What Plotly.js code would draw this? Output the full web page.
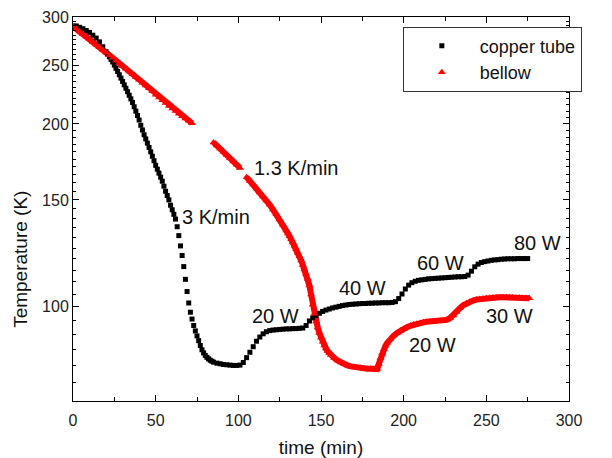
<!DOCTYPE html>
<html>
<head>
<meta charset="utf-8">
<script src="https://cdn.plot.ly/plotly-3.0.1.min.js"></script>
<style>html,body{margin:0;padding:0;background:#fff;}#chart{width:612px;height:458px;}</style>
</head>
<body>
<div id="chart"></div>
<script>
// copper tube (time in min, temperature in K)
const cuTime = [0,2,4,6,8,10,12,14,16,18,
 20,21,22,23,24,25,26,27,28,29,30,31,32,33,34,35,36,37,38,39,40,41,42,43,44,45,46,47,48,49,
 50,51,52,53,54,55,56,57,58,59,60,61,62,63,64,65,66,67,68,69,70,71,72,73,74,75,76,77,78,79,
 80,81,82,83,84,85,
 87,89,91,93,95,97,99,101,103,105,107,109,111,113,115,117,119,121,123,125,127,129,131,133,135,137,139,
 141,143,145,147,149,151,153,155,157,159,161,163,165,167,169,171,173,175,177,179,181,183,185,187,189,191,193,
 195,197,199,201,203,205,207,209,211,213,215,217,219,221,223,225,227,229,231,233,235,237,
 239,241,243,245,247,249,251,253,255,257,259,261,263,265,267,269,271,273,275];
const cuTemp = [290,290,288.5,287,285,283,280,277,273,268,
 263,260.5,258,255.5,253,250,247,244,241,238,235,232,229,226,223,220,217,213.5,210,206.5,203,199,195.5,192,189,186,183,180,177,174,
 171,168.5,166,163.5,161,158,155,152.5,150,147,144.5,142,139.5,135.5,131,126,121.5,116.5,111,106,101.5,98,95.5,93.2,91.3,89.6,88,86.4,85,84,
 83.2,82.6,82.1,81.7,81.4,81.1,
 80.8,80.6,80.4,80.3,80.2,80.1,80.1,80.2,81,82.5,84.2,86,87.8,89.2,90.3,91,91.4,91.6,91.7,91.8,91.9,92,92,92.1,92.1,92.2,92.3,
 93.2,94.8,95.9,96.8,97.6,98.3,98.8,99.2,99.6,99.9,100.2,100.5,100.7,100.9,101,101.1,101.2,101.3,101.3,101.4,101.4,101.5,101.5,101.6,101.6,101.6,101.7,
 102,103.2,105,107,108.6,109.6,110.2,110.6,110.8,111,111.2,111.3,111.4,111.5,111.6,111.7,111.8,111.9,112,112.1,112.1,112.2,
 112.8,114.5,116.4,117.6,118.3,118.7,119,119.3,119.5,119.6,119.8,119.9,120,120,120,120.1,120.1,120.1,120.1];

// bellow (time in min, temperature in K); null marks the gaps in the record
const beTime = [0,2,4,6,8,10,12,14,16,18,20,22,24,26,28,30,32,34,36,38,40,42,44,46,48,50,52,54,56,58,60,62,64,66,68,70,72,
 78,
 85,87,89,91,93,95,97,99,101,
 103,
 105,107,109,111,113,115,117,119,121,123,125,127,129,
 130,131,132,133,134,135,136,137,138,139,140,141,142,143,144,145,146,147,148,149,150,151,152,153,154,155,156,
 158,160,162,164,166,168,170,172,174,176,178,180,182,184,
 185,186,187,188,189,190,
 192,194,196,198,200,202,204,206,208,210,212,214,216,218,220,222,224,226,228,230,232,234,236,238,240,242,244,246,248,250,
 252,254,256,258,260,262,264,266,268,270,272,274,276];
const beTemp = [289.5,286.8,284,281.2,278.5,275.8,273,270.3,267.6,265,262.3,259.6,257,254.4,251.8,249.2,246.6,244,241.5,239,236.4,233.9,231.4,228.9,226.4,223.5,221.1,218.8,216.5,214.2,212,210,208,206,204.2,202.4,200.6,
 null,
 186.5,184.4,182.2,180,177.8,175.7,173.5,171.4,169.3,
 null,
 163.5,161.2,159,156.6,154.3,152,149.6,147.2,144.6,142,139.2,136.5,133.6,
 132.1,130.7,129.2,127.7,126.1,124.5,122.8,121.1,119.2,117.2,115.2,113.4,111.2,108.4,104.8,100.8,97.4,94.6,92.5,90.6,89,87.6,86.4,85.4,84.6,83.9,83.3,
 82.4,81.6,81,80.5,80.1,79.8,79.6,79.4,79.3,79.2,79.1,79.1,79,79,
 80.6,82.4,83.9,85.2,86.3,87.2,
 88.6,89.7,90.6,91.4,92,92.6,93.1,93.5,93.8,94.1,94.3,94.5,94.6,94.7,94.8,94.9,95,95.2,95.8,96.8,98.2,99.5,100.6,101.4,102,102.4,102.8,103,103.2,103.4,
 103.5,103.6,103.7,103.7,103.7,103.7,103.7,103.6,103.5,103.5,103.4,103.4,103.3];

// annotations: text, time, temperature
const noteText = ['1.3 K/min','3 K/min','20 W','40 W','60 W','80 W','20 W','30 W'];
const noteTime = [108.3,64.7,107,159.6,207.1,265.7,202,248.3];
const noteTemp = [169.4,140.6,96.6,107.5,118.1,127.4,86.6,96.6];

// axis ticks
const yTickVals = [100,150,200,250,300];
const xTickVals = [0,50,100,150,200,250,300];

const FONT = 'Liberation Sans, Arial, Helvetica, sans-serif';
const yMinor = [];
for (let v = 70; v <= 300; v += 5) { if (yTickVals.indexOf(v) < 0) yMinor.push(v); }

const traces = [
  {x: beTime, y: beTemp, name: 'bellow', type: 'scatter', mode: 'lines', showlegend: false,
   connectgaps: false, line: {color: '#ff0000', width: 6}, hoverinfo: 'skip'},
  {x: cuTime, y: cuTemp, name: 'copper tube', type: 'scatter', mode: 'markers',
   marker: {symbol: 'square', size: 5, color: '#000000'}},
  {x: beTime, y: beTemp, name: 'bellow', type: 'scatter', mode: 'markers',
   marker: {symbol: 'triangle-up', size: 7, color: '#ff0000'}}
];

const annotations = noteText.map((t, i) => ({
  text: t, x: noteTime[i], y: Math.log10(noteTemp[i]), xref: 'x', yref: 'y',
  showarrow: false, xanchor: 'left', yanchor: 'middle',
  font: {family: FONT, size: 20, color: '#111111'}
}));
annotations.push({
  text: 'Temperature (K)', textangle: -90, xref: 'paper', yref: 'paper',
  x: -0.105, y: 0.37, xanchor: 'center', yanchor: 'middle', showarrow: false,
  font: {family: FONT, size: 19, color: '#111111'}
});

const layout = {
  width: 612, height: 458,
  margin: {l: 73, r: 43, t: 17, b: 57},
  paper_bgcolor: '#ffffff', plot_bgcolor: '#ffffff',
  font: {family: FONT, color: '#111111'},
  showlegend: true,
  legend: {x: 0.665, y: 0.975, xanchor: 'left', yanchor: 'top', itemwidth: 66,
    bgcolor: '#ffffff', bordercolor: '#333333', borderwidth: 1, tracegroupgap: 0,
    font: {family: FONT, size: 18, color: '#111111'}},
  xaxis: {range: [0, 300], tickmode: 'array', tickvals: xTickVals,
    ticks: 'inside', ticklen: 6, tickwidth: 1, tickcolor: '#000',
    showline: true, linecolor: '#000', linewidth: 1, mirror: 'allticks',
    showgrid: false, zeroline: false, ticklabelstandoff: 5,
    tickfont: {family: FONT, size: 16, color: '#222'},
    minor: {dtick: 25, tick0: 0, ticks: 'inside', ticklen: 4, tickcolor: '#000', showgrid: false},
    title: {text: 'time (min)', font: {family: FONT, size: 19, color: '#111'}, standoff: 14}},
  yaxis: {type: 'log', range: [Math.log10(70), Math.log10(300)], tickmode: 'array', tickvals: yTickVals,
    ticktext: yTickVals.map(String),
    ticks: 'inside', ticklen: 6, tickwidth: 1, tickcolor: '#000',
    showline: true, linecolor: '#000', linewidth: 1, mirror: 'allticks',
    showgrid: false, zeroline: false,
    tickfont: {family: FONT, size: 16, color: '#222'},
    minor: {tickmode: 'array', tickvals: yMinor, ticks: 'inside', ticklen: 3, tickcolor: '#000', showgrid: false}},
  annotations: annotations
};

Plotly.newPlot('chart', traces, layout, {displayModeBar: false, staticPlot: true});
</script>
</body>
</html>
